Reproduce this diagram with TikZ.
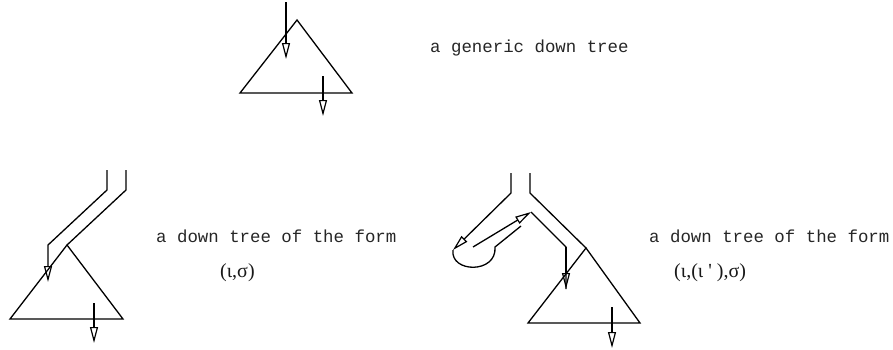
\documentclass[tikz,border=0pt]{standalone}
\usepackage{fontspec}
\newfontfamily\monofont{Liberation Mono}
\newfontfamily\symfont{Liberation Serif}
\usetikzlibrary{arrows.meta}
\tikzset{
  ln/.style={line width=1.3pt, line join=miter},
  oarr/.style={ln, -{Triangle[open,length=16pt,width=8pt,line width=1.2pt]}},
  lbl/.style={anchor=base west, inner sep=0pt, text=black!85, font=\monofont\fontsize{17.4}{20}\selectfont},
  mth/.style={anchor=base west, inner sep=0pt, text=black!90, font=\symfont\fontsize{20}{22}\selectfont}
}
\begin{document}
\begin{tikzpicture}[x=1pt,y=-1pt]
\useasboundingbox (0,0) rectangle (893,349);
% ---- top generic tree ----
\coordinate (tIn) at (286,2);
\coordinate (tInE) at (286,59);
\coordinate (tA) at (297,20);
\coordinate (tL) at (240,93);
\coordinate (tR) at (352,93);
\coordinate (tOut) at (323,76);
\coordinate (tOutE) at (323,116);
\draw[ln] (tA) -- (tL) -- (tR) -- cycle;
\draw[oarr] (tIn) -- (tInE);
\draw[oarr] (tOut) -- (tOutE);
\node[lbl] (lblTop) at (430,52) {a generic down tree};
% ---- bottom left tree ----
\coordinate (l1) at (107,170);
\coordinate (l2) at (107,190);
\coordinate (l3) at (48,245);
\coordinate (l4) at (48,282);
\coordinate (o1) at (126,170);
\coordinate (o2) at (126,190);
\coordinate (lA) at (67,245);
\coordinate (lL) at (10,319);
\coordinate (lR) at (123,319);
\coordinate (lOut) at (94,303);
\coordinate (lOutE) at (94,343);
\draw[ln] (o1) -- (o2) -- (lA);
\draw[ln] (lA) -- (lL) -- (lR) -- cycle;
\draw[oarr] (l1) -- (l2) -- (l3) -- (l4);
\draw[oarr] (lOut) -- (lOutE);
\node[lbl] (lblL) at (156,242) {a down tree of the form};
\node[mth] (formL) at (220,277) {(ι,σ)};
% ---- bottom right tree ----
\coordinate (a1) at (511,173);
\coordinate (a2) at (511,193);
\coordinate (a3) at (453,250);
\coordinate (b1) at (473,247);
\coordinate (b2) at (531,212);
\coordinate (b3) at (566,247);
\coordinate (b4) at (566,289);
\coordinate (c1) at (495,247);
\coordinate (c2) at (521,226);
\coordinate (r1) at (530,173);
\coordinate (r2) at (530,193);
\coordinate (rA) at (586,248);
\coordinate (rL) at (528,323);
\coordinate (rR) at (640,323);
\coordinate (rOut) at (612,307);
\coordinate (rOutE) at (612,348);
\draw[oarr] (a1) -- (a2) -- (a3);
\draw[oarr] (b1) -- (b2);
\draw[ln] (b2) -- (b3) -- (b4);
\draw[oarr] (b3) -- (b4);
\draw[ln] (a3) .. controls (450,273) and (497,274) .. (c1) -- (c2);
\draw[ln] (r1) -- (r2) -- (rA);
\draw[ln] (rA) -- (rL) -- (rR) -- cycle;
\draw[oarr] (rOut) -- (rOutE);
\node[lbl] (lblR) at (649,242) {a down tree of the form};
\node[mth] (formR) at (674,277) {(ι,(ι\ '\ ),σ)};
\end{tikzpicture}
\end{document}
